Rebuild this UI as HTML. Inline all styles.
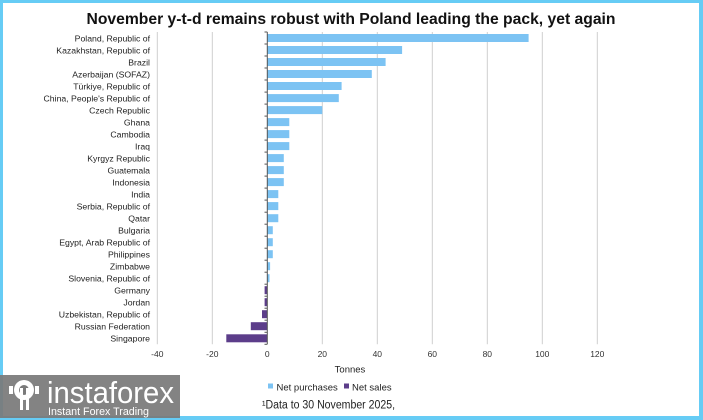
<!DOCTYPE html>
<html><head><meta charset="utf-8"><style>
html,body{margin:0;padding:0;background:#fff;}
svg{display:block;}
text{font-family:"Liberation Sans","DejaVu Sans",sans-serif;}
</style></head><body>
<svg width="703" height="420" viewBox="0 0 703 420" xmlns="http://www.w3.org/2000/svg">
<rect x="0" y="0" width="703" height="420" fill="#66ccf5"/>
<rect x="3" y="3" width="696" height="413" fill="#ffffff"/>
<text x="351" y="24" text-anchor="middle" font-size="16" font-weight="bold" fill="#111" textLength="529" lengthAdjust="spacingAndGlyphs">November y-t-d remains robust with Poland leading the pack, yet again</text>
<g stroke="#cfcfcf" stroke-width="1">
<line x1="157.3" y1="32" x2="157.3" y2="344.3"/>
<line x1="212.3" y1="32" x2="212.3" y2="344.3"/>
<line x1="322.3" y1="32" x2="322.3" y2="344.3"/>
<line x1="377.3" y1="32" x2="377.3" y2="344.3"/>
<line x1="432.3" y1="32" x2="432.3" y2="344.3"/>
<line x1="487.3" y1="32" x2="487.3" y2="344.3"/>
<line x1="542.3" y1="32" x2="542.3" y2="344.3"/>
<line x1="597.3" y1="32" x2="597.3" y2="344.3"/>
</g>
<g fill="#7cc3f3">
<rect x="267.3" y="34.0" width="261.3" height="8"/>
<rect x="267.3" y="46.0" width="134.8" height="8"/>
<rect x="267.3" y="58.0" width="118.3" height="8"/>
<rect x="267.3" y="70.0" width="104.5" height="8"/>
<rect x="267.3" y="82.0" width="74.3" height="8"/>
<rect x="267.3" y="94.1" width="71.5" height="8"/>
<rect x="267.3" y="106.1" width="55" height="8"/>
<rect x="267.3" y="118.1" width="22" height="8"/>
<rect x="267.3" y="130.1" width="22" height="8"/>
<rect x="267.3" y="142.1" width="22" height="8"/>
<rect x="267.3" y="154.1" width="16.5" height="8"/>
<rect x="267.3" y="166.1" width="16.5" height="8"/>
<rect x="267.3" y="178.1" width="16.5" height="8"/>
<rect x="267.3" y="190.1" width="11" height="8"/>
<rect x="267.3" y="202.1" width="11" height="8"/>
<rect x="267.3" y="214.2" width="11" height="8"/>
<rect x="267.3" y="226.2" width="5.5" height="8"/>
<rect x="267.3" y="238.2" width="5.5" height="8"/>
<rect x="267.3" y="250.2" width="5.5" height="8"/>
<rect x="267.3" y="262.2" width="2.8" height="8"/>
<rect x="267.3" y="274.2" width="2.2" height="8"/>
</g>
<g fill="#5c3d8a">
<rect x="264.6" y="286.2" width="2.7" height="8"/>
<rect x="264.6" y="298.2" width="2.7" height="8"/>
<rect x="262" y="310.2" width="5.3" height="8"/>
<rect x="250.8" y="322.2" width="16.5" height="8"/>
<rect x="226.3" y="334.3" width="41" height="8"/>
</g>
<g stroke="#555" stroke-width="1">
<line x1="267.3" y1="32" x2="267.3" y2="344.3"/>
<line x1="264.5" y1="32" x2="267.3" y2="32"/>
<line x1="264.5" y1="44" x2="267.3" y2="44"/>
<line x1="264.5" y1="56" x2="267.3" y2="56"/>
<line x1="264.5" y1="68" x2="267.3" y2="68"/>
<line x1="264.5" y1="80" x2="267.3" y2="80"/>
<line x1="264.5" y1="92.1" x2="267.3" y2="92.1"/>
<line x1="264.5" y1="104.1" x2="267.3" y2="104.1"/>
<line x1="264.5" y1="116.1" x2="267.3" y2="116.1"/>
<line x1="264.5" y1="128.1" x2="267.3" y2="128.1"/>
<line x1="264.5" y1="140.1" x2="267.3" y2="140.1"/>
<line x1="264.5" y1="152.1" x2="267.3" y2="152.1"/>
<line x1="264.5" y1="164.1" x2="267.3" y2="164.1"/>
<line x1="264.5" y1="176.1" x2="267.3" y2="176.1"/>
<line x1="264.5" y1="188.1" x2="267.3" y2="188.1"/>
<line x1="264.5" y1="200.1" x2="267.3" y2="200.1"/>
<line x1="264.5" y1="212.2" x2="267.3" y2="212.2"/>
<line x1="264.5" y1="224.2" x2="267.3" y2="224.2"/>
<line x1="264.5" y1="236.2" x2="267.3" y2="236.2"/>
<line x1="264.5" y1="248.2" x2="267.3" y2="248.2"/>
<line x1="264.5" y1="260.2" x2="267.3" y2="260.2"/>
<line x1="264.5" y1="272.2" x2="267.3" y2="272.2"/>
<line x1="264.5" y1="284.2" x2="267.3" y2="284.2"/>
<line x1="264.5" y1="296.2" x2="267.3" y2="296.2"/>
<line x1="264.5" y1="308.2" x2="267.3" y2="308.2"/>
<line x1="264.5" y1="320.2" x2="267.3" y2="320.2"/>
<line x1="264.5" y1="332.3" x2="267.3" y2="332.3"/>
<line x1="264.5" y1="344.3" x2="267.3" y2="344.3"/>
</g>
<g font-size="8.7" fill="#222" text-anchor="end">
<text x="150" y="41.3">Poland, Republic of</text>
<text x="150" y="53.3">Kazakhstan, Republic of</text>
<text x="150" y="65.3">Brazil</text>
<text x="150" y="77.3">Azerbaijan (SOFAZ)</text>
<text x="150" y="89.3">Türkiye, Republic of</text>
<text x="150" y="101.4">China, People's Republic of</text>
<text x="150" y="113.4">Czech Republic</text>
<text x="150" y="125.4">Ghana</text>
<text x="150" y="137.4">Cambodia</text>
<text x="150" y="149.4">Iraq</text>
<text x="150" y="161.4">Kyrgyz Republic</text>
<text x="150" y="173.4">Guatemala</text>
<text x="150" y="185.4">Indonesia</text>
<text x="150" y="197.4">India</text>
<text x="150" y="209.4">Serbia, Republic of</text>
<text x="150" y="221.5">Qatar</text>
<text x="150" y="233.5">Bulgaria</text>
<text x="150" y="245.5">Egypt, Arab Republic of</text>
<text x="150" y="257.5">Philippines</text>
<text x="150" y="269.5">Zimbabwe</text>
<text x="150" y="281.5">Slovenia, Republic of</text>
<text x="150" y="293.5">Germany</text>
<text x="150" y="305.5">Jordan</text>
<text x="150" y="317.5">Uzbekistan, Republic of</text>
<text x="150" y="329.5">Russian Federation</text>
<text x="150" y="341.6">Singapore</text>
</g>
<g font-size="8.5" fill="#333" text-anchor="middle">
<text x="157.3" y="357">-40</text>
<text x="212.3" y="357">-20</text>
<text x="267.3" y="357">0</text>
<text x="322.3" y="357">20</text>
<text x="377.3" y="357">40</text>
<text x="432.3" y="357">60</text>
<text x="487.3" y="357">80</text>
<text x="542.3" y="357">100</text>
<text x="597.3" y="357">120</text>
</g>
<text x="350" y="372.5" font-size="9.5" fill="#222" text-anchor="middle">Tonnes</text>
<rect x="268" y="383.5" width="5" height="5" fill="#7cc3f3"/>
<text x="276.5" y="390.5" font-size="9.5" fill="#222">Net purchases</text>
<rect x="344" y="383.5" width="5" height="5" fill="#5c3d8a"/>
<text x="352" y="390.5" font-size="9.5" fill="#222">Net sales</text>
<text x="262" y="408.5" font-size="11.5" fill="#222" textLength="133" lengthAdjust="spacingAndGlyphs">¹Data to 30 November 2025,</text>
<rect x="0" y="375" width="180" height="43" fill="#7a7a7a" opacity="0.93"/>
<g fill="#ffffff">
<circle cx="24" cy="390" r="10"/>
<circle cx="24" cy="390" r="5" fill="#7a7a7a"/>
<rect x="20" y="388" width="3" height="22"/>
<rect x="26" y="388" width="3" height="22"/>
<rect x="9" y="386" width="4" height="8"/>
<rect x="35" y="386" width="4" height="8"/>
</g>
<text x="47" y="403" font-size="31" fill="#ffffff" textLength="127" lengthAdjust="spacingAndGlyphs">instaforex</text>
<text x="48" y="415" font-size="11" fill="#ffffff" textLength="101" lengthAdjust="spacingAndGlyphs">Instant Forex Trading</text>
</svg>
</body></html>
